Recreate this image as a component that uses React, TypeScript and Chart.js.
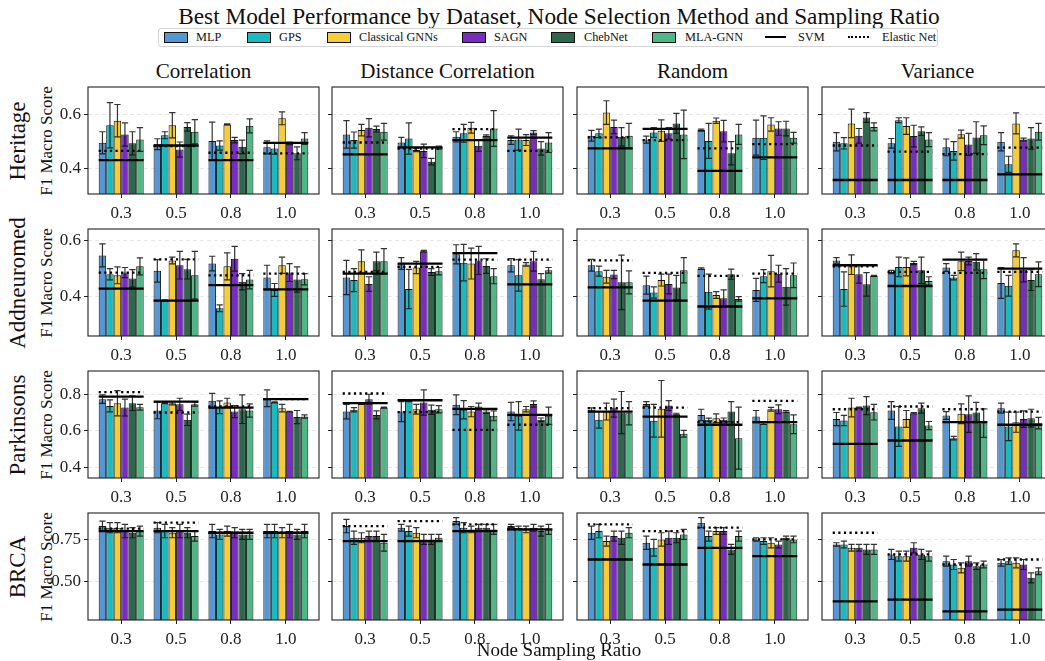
import React, { useEffect, useRef } from "react";
import { Chart, registerables } from "chart.js";

Chart.register(...registerables);

// ---------------- DATA ----------------
const models = ["MLP", "GPS", "Classical GNNs", "SAGN", "ChebNet", "MLA-GNN"];
const modelColors = [
  "rgba(66,139,206,0.9)",
  "rgba(0,180,185,0.9)",
  "rgba(245,200,30,0.9)",
  "rgba(105,22,185,0.9)",
  "rgba(22,88,58,0.9)",
  "rgba(60,175,120,0.9)",
];
const ratioLabels = ["0.3", "0.5", "0.8", "1.0"];
const methods = ["Correlation", "Distance Correlation", "Random", "Variance"];
const datasetNames = ["Heritage", "Addneuromed", "Parkinsons", "BRCA"];

// means[method][ratio][model]
const heritageMeans = [
  [[0.495, 0.56, 0.577, 0.526, 0.493, 0.507], [0.49, 0.523, 0.56, 0.47, 0.554, 0.536], [0.502, 0.485, 0.563, 0.505, 0.48, 0.558], [0.478, 0.474, 0.586, 0.493, 0.456, 0.511]],
  [[0.526, 0.505, 0.542, 0.551, 0.546, 0.536], [0.496, 0.511, 0.468, 0.465, 0.425, 0.477], [0.517, 0.53, 0.551, 0.484, 0.521, 0.548], [0.505, 0.507, 0.505, 0.533, 0.474, 0.496]],
  [[0.521, 0.53, 0.607, 0.554, 0.517, 0.521], [0.507, 0.533, 0.54, 0.53, 0.567, 0.526], [0.542, 0.502, 0.577, 0.538, 0.456, 0.526], [0.514, 0.514, 0.563, 0.548, 0.548, 0.514]],
  [[0.499, 0.493, 0.567, 0.521, 0.589, 0.554], [0.493, 0.579, 0.557, 0.52, 0.538, 0.507], [0.478, 0.465, 0.527, 0.489, 0.515, 0.523], [0.499, 0.415, 0.567, 0.507, 0.511, 0.536]],
];
const heritageErrs = [
  [[0.041, 0.084, 0.06, 0.043, 0.043, 0.044], [0.02, 0.013, 0.047, 0.028, 0.016, 0.045], [0.07, 0.017, 0.002, 0.01, 0.025, 0.026], [0.024, 0.021, 0.024, 0.005, 0.024, 0.022]],
  [[0.051, 0.03, 0.021, 0.034, 0.011, 0.031], [0.019, 0.058, 0.006, 0.025, 0.012, 0.006], [0.019, 0.033, 0.02, 0.021, 0.003, 0.066], [0.016, 0.039, 0.02, 0.007, 0.025, 0.037]],
  [[0.02, 0.016, 0.044, 0.025, 0.034, 0.046], [0.013, 0.018, 0.04, 0.021, 0.037, 0.09], [0.004, 0.065, 0.01, 0.04, 0.043, 0.037], [0.065, 0.081, 0.025, 0.025, 0.027, 0.02]],
  [[0.034, 0.021, 0.053, 0.027, 0.018, 0.015], [0.018, 0.009, 0.031, 0.04, 0.016, 0.026], [0.031, 0.034, 0.015, 0.041, 0.058, 0.035], [0.034, 0.03, 0.039, 0.005, 0.04, 0.031]],
];
const heritageSvm = [[0.431, 0.485, 0.431, 0.495], [0.452, 0.478, 0.505, 0.514], [0.474, 0.547, 0.391, 0.441], [0.357, 0.357, 0.357, 0.378]];
const heritageEnet = [[0.465, 0.483, 0.458, 0.456], [0.496, 0.473, 0.546, 0.465], [0.515, 0.505, 0.474, 0.49], [0.485, 0.462, 0.453, 0.477]];

const addneuromedMeans = [
  [[0.547, 0.48, 0.476, 0.486, 0.465, 0.508], [0.492, 0.386, 0.529, 0.512, 0.498, 0.476], [0.518, 0.359, 0.508, 0.535, 0.453, 0.461], [0.468, 0.424, 0.512, 0.486, 0.461, 0.462]],
  [[0.468, 0.459, 0.526, 0.445, 0.526, 0.526], [0.518, 0.427, 0.504, 0.562, 0.488, 0.491], [0.551, 0.521, 0.518, 0.529, 0.509, 0.473], [0.512, 0.476, 0.515, 0.526, 0.462, 0.494]],
  [[0.512, 0.491, 0.471, 0.479, 0.451, 0.451], [0.441, 0.415, 0.459, 0.445, 0.433, 0.494], [0.5, 0.418, 0.406, 0.394, 0.48, 0.392], [0.424, 0.473, 0.491, 0.482, 0.435, 0.476]],
  [[0.529, 0.427, 0.514, 0.48, 0.444, 0.474], [0.488, 0.506, 0.506, 0.52, 0.494, 0.456], [0.504, 0.468, 0.526, 0.527, 0.524, 0.498], [0.449, 0.439, 0.565, 0.496, 0.459, 0.48]],
];
const addneuromedErrs = [
  [[0.041, 0.02, 0.03, 0.018, 0.031, 0.03], [0.04, 0.003, 0.012, 0.049, 0.035, 0.085], [0.026, 0.012, 0.048, 0.044, 0.029, 0.033], [0.044, 0.023, 0.029, 0.032, 0.045, 0.02]],
  [[0.061, 0.041, 0.041, 0.026, 0.033, 0.045], [0.021, 0.07, 0.022, 0.003, 0.012, 0.013], [0.034, 0.065, 0.055, 0.05, 0.026, 0.027], [0.024, 0.056, 0.006, 0.035, 0.02, 0.01]],
  [[0.021, 0.018, 0.023, 0.015, 0.097, 0.041], [0.032, 0.02, 0.021, 0.035, 0.043, 0.045], [0.003, 0.062, 0.012, 0.03, 0.018, 0.008], [0.041, 0.023, 0.056, 0.03, 0.065, 0.044]],
  [[0.01, 0.061, 0.035, 0.032, 0.042, 0.002], [0.006, 0.035, 0.032, 0.006, 0.047, 0.015], [0.014, 0.008, 0.033, 0.014, 0.029, 0.034], [0.055, 0.037, 0.023, 0.043, 0.037, 0.044]],
];
const addneuromedSvm = [[0.429, 0.386, 0.441, 0.426], [0.482, 0.518, 0.555, 0.444], [0.433, 0.386, 0.365, 0.394], [0.512, 0.438, 0.532, 0.5]];
const addneuromedEnet = [[0.486, 0.533, 0.476, 0.482], [0.488, 0.506, 0.532, 0.532], [0.529, 0.485, 0.474, 0.482], [0.508, 0.488, 0.485, 0.488]];

const parkinsonsMeans = [
  [[0.773, 0.736, 0.751, 0.727, 0.751, 0.729], [0.711, 0.751, 0.751, 0.745, 0.66, 0.745], [0.765, 0.729, 0.755, 0.705, 0.718, 0.711], [0.778, 0.756, 0.724, 0.705, 0.675, 0.678]],
  [[0.705, 0.715, 0.747, 0.773, 0.687, 0.727], [0.705, 0.765, 0.718, 0.755, 0.715, 0.718], [0.742, 0.715, 0.705, 0.733, 0.705, 0.682], [0.705, 0.682, 0.718, 0.747, 0.66, 0.682]],
  [[0.715, 0.66, 0.705, 0.724, 0.7, 0.696], [0.747, 0.655, 0.72, 0.738, 0.691, 0.584], [0.687, 0.66, 0.669, 0.66, 0.705, 0.56], [0.678, 0.64, 0.718, 0.718, 0.705, 0.636]],
  [[0.664, 0.656, 0.727, 0.727, 0.738, 0.702], [0.711, 0.624, 0.665, 0.696, 0.724, 0.629], [0.684, 0.56, 0.693, 0.691, 0.7, 0.642], [0.724, 0.624, 0.647, 0.664, 0.669, 0.642]],
];
const parkinsonsErrs = [
  [[0.023, 0.033, 0.069, 0.046, 0.04, 0.016], [0.045, 0.003, 0.009, 0.033, 0.031, 0.01], [0.04, 0.035, 0.023, 0.033, 0.078, 0.036], [0.046, 0.003, 0.02, 0.002, 0.036, 0.009]],
  [[0.04, 0.012, 0.003, 0.027, 0.022, 0.003], [0.055, 0.006, 0.027, 0.069, 0.025, 0.02], [0.054, 0.05, 0.028, 0.018, 0.01, 0.027], [0.05, 0.078, 0.015, 0.017, 0.01, 0.047]],
  [[0.01, 0.045, 0.046, 0.049, 0.115, 0.064], [0.013, 0.09, 0.155, 0.027, 0.005, 0.018], [0.031, 0.009, 0.024, 0.01, 0.055, 0.17], [0.033, 0.005, 0.01, 0.024, 0.005, 0.051]],
  [[0.036, 0.028, 0.051, 0.003, 0.049, 0.043], [0.049, 0.109, 0.046, 0.004, 0.027, 0.022], [0.021, 0.01, 0.054, 0.1, 0.056, 0.078], [0.027, 0.078, 0.055, 0.045, 0.049, 0.031]],
];
const parkinsonsSvm = [[0.787, 0.76, 0.727, 0.773], [0.751, 0.767, 0.72, 0.687], [0.705, 0.678, 0.633, 0.647], [0.529, 0.547, 0.647, 0.633]];
const parkinsonsEnet = [[0.811, 0.7, 0.733, 0.773], [0.804, 0.702, 0.605, 0.633], [0.724, 0.727, 0.647, 0.764], [0.718, 0.733, 0.718, 0.705]];

const brcaMeans = [
  [[0.83, 0.82, 0.82, 0.8, 0.79, 0.8], [0.82, 0.8, 0.79, 0.8, 0.79, 0.77], [0.8, 0.78, 0.8, 0.79, 0.78, 0.78], [0.8, 0.8, 0.79, 0.8, 0.78, 0.8]],
  [[0.83, 0.76, 0.76, 0.77, 0.77, 0.73], [0.82, 0.8, 0.79, 0.75, 0.75, 0.76], [0.86, 0.82, 0.81, 0.82, 0.82, 0.81], [0.83, 0.82, 0.81, 0.82, 0.8, 0.81]],
  [[0.79, 0.8, 0.74, 0.77, 0.76, 0.79], [0.73, 0.7, 0.75, 0.76, 0.76, 0.78], [0.85, 0.77, 0.8, 0.8, 0.69, 0.77], [0.75, 0.74, 0.73, 0.72, 0.76, 0.75]],
  [[0.72, 0.72, 0.7, 0.7, 0.69, 0.69], [0.66, 0.65, 0.65, 0.7, 0.66, 0.65], [0.62, 0.6, 0.58, 0.62, 0.59, 0.6], [0.61, 0.62, 0.61, 0.6, 0.52, 0.56]],
];
const brcaErrs = [
  [[0.03, 0.03, 0.03, 0.04, 0.03, 0.03], [0.03, 0.04, 0.03, 0.04, 0.03, 0.03], [0.04, 0.03, 0.03, 0.03, 0.03, 0.03], [0.04, 0.04, 0.03, 0.04, 0.03, 0.04]],
  [[0.04, 0.04, 0.03, 0.03, 0.03, 0.05], [0.02, 0.03, 0.03, 0.03, 0.03, 0.02], [0.02, 0.03, 0.02, 0.02, 0.02, 0.03], [0.01, 0.01, 0.02, 0.02, 0.03, 0.03]],
  [[0.04, 0.04, 0.03, 0.03, 0.04, 0.03], [0.04, 0.05, 0.04, 0.04, 0.03, 0.03], [0.03, 0.03, 0.02, 0.02, 0.03, 0.03], [0.01, 0.02, 0.03, 0.02, 0.01, 0.02]],
  [[0.01, 0.02, 0.02, 0.02, 0.03, 0.03], [0.03, 0.03, 0.03, 0.03, 0.03, 0.03], [0.03, 0.03, 0.03, 0.03, 0.02, 0.02], [0.02, 0.02, 0.03, 0.03, 0.03, 0.02]],
];
const brcaSvm = [[0.8, 0.8, 0.79, 0.79], [0.74, 0.74, 0.8, 0.81], [0.63, 0.6, 0.7, 0.65], [0.38, 0.39, 0.32, 0.33]];
const brcaEnet = [[0.815, 0.85, 0.79, 0.79], [0.83, 0.86, 0.84, 0.81], [0.84, 0.8, 0.82, 0.75], [0.79, 0.66, 0.6, 0.63]];

const allMeans = [heritageMeans, addneuromedMeans, parkinsonsMeans, brcaMeans];
const allErrs = [heritageErrs, addneuromedErrs, parkinsonsErrs, brcaErrs];
const allSvm = [heritageSvm, addneuromedSvm, parkinsonsSvm, brcaSvm];
const allEnet = [heritageEnet, addneuromedEnet, parkinsonsEnet, brcaEnet];

const yMins = [0.305, 0.26, 0.342, 0.268];
const yMaxs = [0.702, 0.641, 0.927, 0.908];
const yTickValues = [[0.4, 0.6], [0.4, 0.6], [0.4, 0.6, 0.8], [0.5, 0.75]];
const yTickLabels = [["0.4", "0.6"], ["0.4", "0.6"], ["0.4", "0.6", "0.8"], ["0.50", "0.75"]];

// ---------------- LAYOUT ----------------
const SERIF = '"Liberation Serif", "DejaVu Serif", serif';
const COL_LEFT = [88, 332, 577, 822];
const ROW_TOP = [87, 229, 371, 513];
const PW = 231;
const PH = 107;
const PAD_L = 46;
const PAD_T = 16;
const PAD_R = 6;
const PAD_B = 32;
const GROUP_FRAC = 0.82;
const HALF = GROUP_FRAC / 2;
const X_MIN = -0.605;
const X_MAX = 3.605;

const errorBarPlugin = {
  id: "errbarsAndFrame",
  afterDatasetsDraw(chart: any) {
    const { ctx, chartArea } = chart;
    const ys = chart.scales.y;
    ctx.save();
    ctx.beginPath();
    ctx.rect(chartArea.left, chartArea.top, chartArea.right - chartArea.left, chartArea.bottom - chartArea.top);
    ctx.clip();
    ctx.strokeStyle = "rgba(15,15,15,0.85)";
    ctx.lineWidth = 1.2;
    chart.data.datasets.forEach((ds: any, i: number) => {
      if (!ds.errors) return;
      const meta = chart.getDatasetMeta(i);
      meta.data.forEach((bar: any, j: number) => {
        const v = ds.data[j].y;
        const e = ds.errors[j];
        const x = bar.x;
        const y1 = ys.getPixelForValue(v + e);
        const y2 = ys.getPixelForValue(v - e);
        const cw = bar.width * 0.42;
        ctx.beginPath();
        ctx.moveTo(x, y1);
        ctx.lineTo(x, y2);
        ctx.moveTo(x - cw, y1);
        ctx.lineTo(x + cw, y1);
        ctx.moveTo(x - cw, y2);
        ctx.lineTo(x + cw, y2);
        ctx.stroke();
      });
    });
    ctx.restore();
    ctx.save();
    ctx.strokeStyle = "#222";
    ctx.lineWidth = 1.1;
    ctx.strokeRect(chartArea.left, chartArea.top, chartArea.right - chartArea.left, chartArea.bottom - chartArea.top);
    ctx.restore();
  },
};

function Panel({ r, c }: { r: number; c: number }) {
  const ref = useRef<HTMLCanvasElement>(null);
  useEffect(() => {
    const means = allMeans[r][c];
    const errs = allErrs[r][c];
    const svm = allSvm[r][c];
    const enet = allEnet[r][c];
    const seg = (vals: number[]) =>
      vals.flatMap((v, j) => [
        { x: j - HALF, y: v },
        { x: j + HALF, y: v },
        { x: j + 0.5, y: null },
      ]);
    const lineSets: any[] = [
      {
        type: "line",
        label: "SVM",
        data: seg(svm),
        borderColor: "#000",
        borderWidth: 2.3,
        pointRadius: 0,
        spanGaps: false,
        fill: false,
        borderCapStyle: "butt",
        order: 0,
      },
      {
        type: "line",
        label: "Elastic Net",
        data: seg(enet),
        borderColor: "#000",
        borderWidth: 2.3,
        borderDash: [2.2, 3.4],
        pointRadius: 0,
        spanGaps: false,
        fill: false,
        borderCapStyle: "butt",
        order: 1,
      },
    ];
    const barSets: any[] = models.map((m, k) => ({
      type: "bar",
      label: m,
      data: ratioLabels.map((_, j) => ({ x: j, y: means[j][k] })),
      errors: ratioLabels.map((_, j) => errs[j][k]),
      backgroundColor: modelColors[k],
      borderColor: "#151515",
      borderWidth: 1,
      barPercentage: 1,
      categoryPercentage: GROUP_FRAC,
      order: 2,
    }));
    const tickFont = { family: SERIF, size: 17 };
    const chart = new Chart(ref.current as HTMLCanvasElement, {
      type: "bar",
      data: { datasets: [...lineSets, ...barSets] },
      options: {
        responsive: false,
        animation: false,
        devicePixelRatio: 1,
        events: [],
        layout: { padding: { top: PAD_T, right: PAD_R, left: 0, bottom: 0 } },
        plugins: { legend: { display: false }, tooltip: { enabled: false }, title: { display: false } },
        scales: {
          x: {
            type: "linear",
            min: X_MIN,
            max: X_MAX,
            offset: false,
            afterBuildTicks: (s: any) => {
              s.ticks = ratioLabels.map((_, j) => ({ value: j }));
            },
            afterFit: (s: any) => {
              s.height = PAD_B;
            },
            ticks: {
              callback: (_v: any, i: number) => ratioLabels[i],
              font: tickFont,
              color: "#222",
              padding: 5,
              maxRotation: 0,
              autoSkip: false,
            },
            grid: { drawOnChartArea: false, drawTicks: true, tickLength: 4, tickColor: "#222", offset: false },
            border: { display: false },
          },
          y: {
            type: "linear",
            min: yMins[r],
            max: yMaxs[r],
            beginAtZero: false,
            afterBuildTicks: (s: any) => {
              s.ticks = yTickValues[r].map((v) => ({ value: v }));
            },
            afterFit: (s: any) => {
              s.width = PAD_L;
            },
            ticks: {
              callback: (_v: any, i: number) => (c === 0 ? yTickLabels[r][i] : ""),
              font: tickFont,
              color: "#222",
              padding: 3,
              autoSkip: false,
            },
            grid: {
              color: "rgba(0,0,0,0.12)",
              lineWidth: 0.8,
              drawTicks: true,
              tickLength: 4,
              tickColor: "#222",
              tickWidth: 1,
            },
            border: { display: false, dash: [4, 3] },
          },
        },
      } as any,
      plugins: [errorBarPlugin],
    });
    return () => chart.destroy();
  }, [r, c]);
  const w = PAD_L + PW + PAD_R;
  const h = PAD_T + PH + PAD_B;
  return (
    <canvas
      ref={ref}
      width={w}
      height={h}
      style={{ position: "absolute", left: COL_LEFT[c] - PAD_L, top: ROW_TOP[r] - PAD_T, width: w, height: h }}
    />
  );
}

const legendItems = [
  { kind: "box", label: models[0], color: modelColors[0], x: 163, tx: 195 },
  { kind: "box", label: models[1], color: modelColors[1], x: 246, tx: 278 },
  { kind: "box", label: models[2], color: modelColors[2], x: 326, tx: 358 },
  { kind: "box", label: models[3], color: modelColors[3], x: 461, tx: 493 },
  { kind: "box", label: models[4], color: modelColors[4], x: 550, tx: 583 },
  { kind: "box", label: models[5], color: modelColors[5], x: 651, tx: 684 },
  { kind: "solid", label: "SVM", color: "#000", x: 764, tx: 797 },
  { kind: "dotted", label: "Elastic Net", color: "#000", x: 847, tx: 881 },
];

function Legend() {
  return (
    <div
      style={{
        position: "absolute",
        left: 158,
        top: 28,
        width: 780,
        height: 19,
        border: "1px solid #d4d4d4",
        borderRadius: 3,
        boxSizing: "border-box",
        background: "#fff",
      }}
    >
      {legendItems.map((it) => (
        <React.Fragment key={it.label}>
          {it.kind === "box" ? (
            <div
              style={{
                position: "absolute",
                left: it.x - 158,
                top: 3,
                width: 22,
                height: 9,
                background: it.color,
                border: "1px solid #111",
              }}
            />
          ) : (
            <div
              style={{
                position: "absolute",
                left: it.x - 158,
                top: 7,
                width: 21,
                height: 0,
                borderTop: it.kind === "solid" ? "2.3px solid #000" : "2.3px dotted #000",
              }}
            />
          )}
          <div
            style={{
              position: "absolute",
              left: it.tx - 158,
              top: 1,
              fontSize: 12.3,
              lineHeight: "15px",
              whiteSpace: "nowrap",
              color: "#111",
            }}
          >
            {it.label}
          </div>
        </React.Fragment>
      ))}
    </div>
  );
}

export default function App() {
  const panels: JSX.Element[] = [];
  for (let r = 0; r < 4; r++) for (let c = 0; c < 4; c++) panels.push(<Panel key={`${r}-${c}`} r={r} c={c} />);
  return (
    <div
      style={{
        position: "fixed",
        left: 0,
        top: 0,
        width: 1045,
        height: 661,
        overflow: "hidden",
        background: "#fff",
        fontFamily: SERIF,
        color: "#111",
      }}
    >
      <div
        style={{
          position: "absolute",
          left: 559,
          top: 3,
          transform: "translateX(-50%)",
          fontSize: 23.3,
          lineHeight: "26px",
          whiteSpace: "nowrap",
        }}
      >
        Best Model Performance by Dataset, Node Selection Method and Sampling Ratio
      </div>
      <Legend />
      {methods.map((m, c) => (
        <div
          key={m}
          style={{
            position: "absolute",
            left: COL_LEFT[c] + PW / 2,
            top: 59,
            transform: "translateX(-50%)",
            fontSize: 21,
            lineHeight: "24px",
            whiteSpace: "nowrap",
          }}
        >
          {m}
        </div>
      ))}
      {datasetNames.map((d, r) => (
        <React.Fragment key={d}>
          <div
            style={{
              position: "absolute",
              left: 18,
              top: ROW_TOP[r] + PH / 2,
              transform: "translate(-50%, -50%) rotate(-90deg)",
              fontSize: 23,
              lineHeight: "26px",
              whiteSpace: "nowrap",
            }}
          >
            {d}
          </div>
          <div
            style={{
              position: "absolute",
              left: 47,
              top: ROW_TOP[r] + PH / 2,
              transform: "translate(-50%, -50%) rotate(-90deg)",
              fontSize: 17,
              lineHeight: "20px",
              whiteSpace: "nowrap",
            }}
          >
            F1 Macro Score
          </div>
        </React.Fragment>
      ))}
      {panels}
      <div
        style={{
          position: "absolute",
          left: 559,
          top: 639,
          transform: "translateX(-50%)",
          fontSize: 19,
          lineHeight: "22px",
          whiteSpace: "nowrap",
        }}
      >
        Node Sampling Ratio
      </div>
    </div>
  );
}
